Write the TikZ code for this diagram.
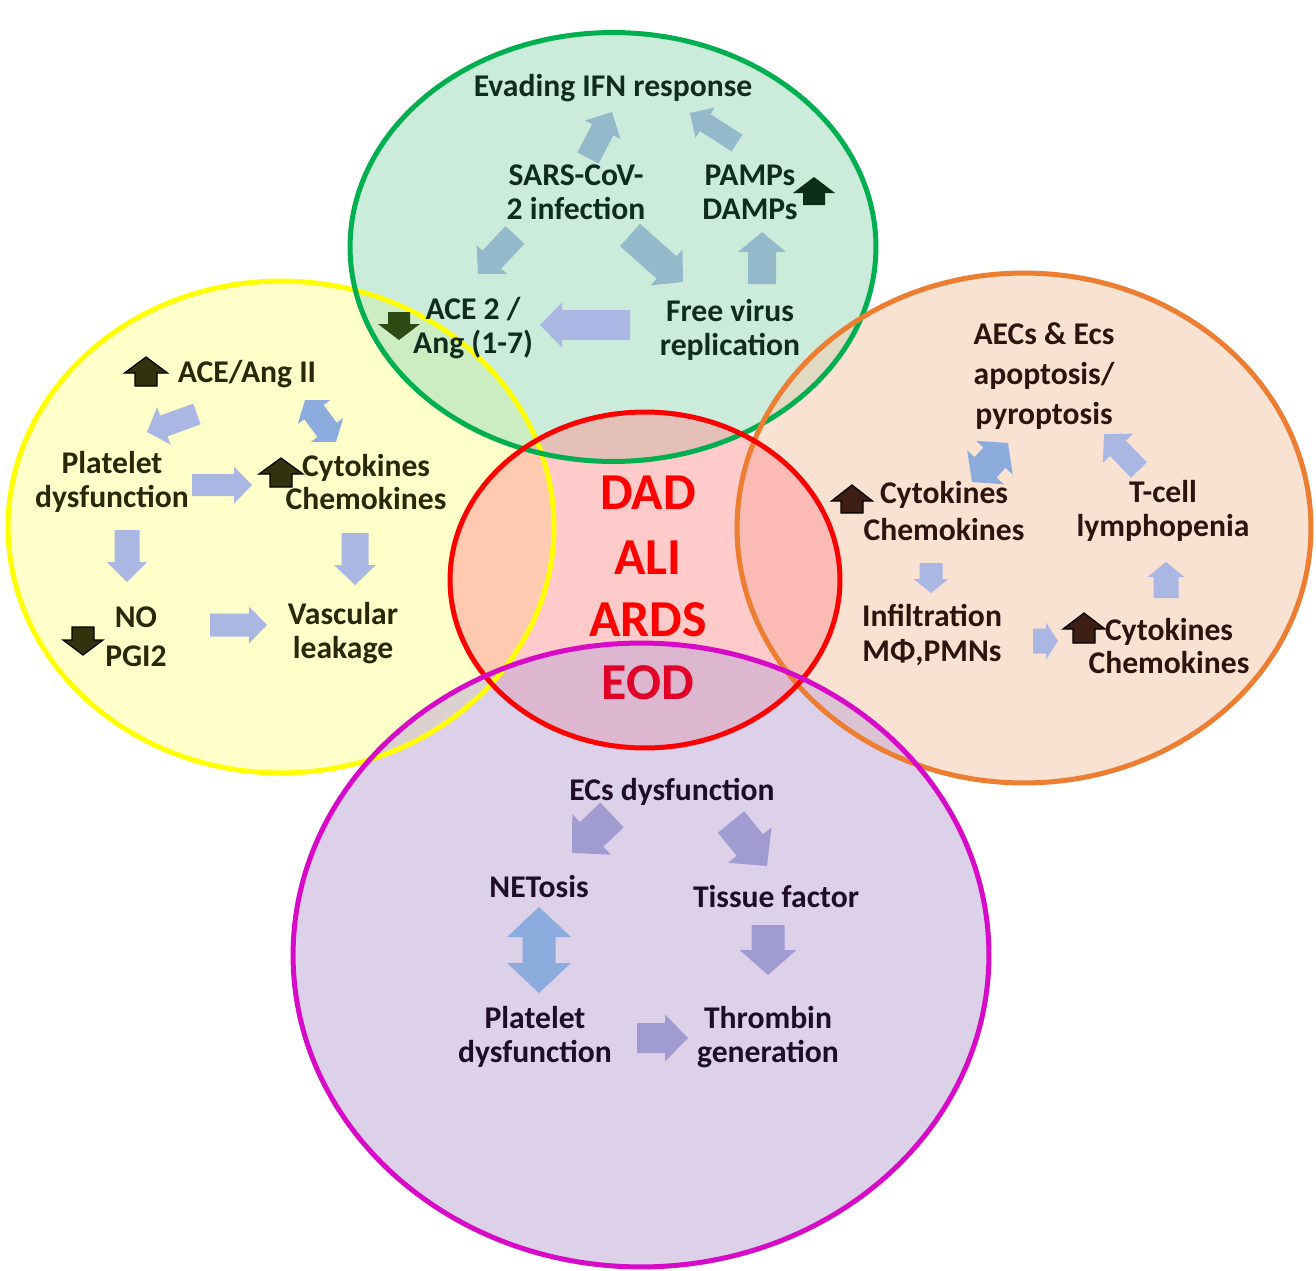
\documentclass[tikz,border=0pt]{standalone}
\usepackage{fontspec}
\setmainfont{Carlito}
\definecolor{yfill}{RGB}{255,255,150}
\definecolor{gfill}{RGB}{155,219,185}
\definecolor{ofill}{RGB}{247,199,169}
\definecolor{rfill}{RGB}{255,150,150}
\definecolor{mfill}{RGB}{189,165,213}
\definecolor{gline}{RGB}{0,176,80}
\definecolor{yline}{RGB}{255,255,0}
\definecolor{oline}{RGB}{237,125,49}
\definecolor{rline}{RGB}{255,0,0}
\definecolor{mline}{RGB}{215,10,200}
\definecolor{gtext}{RGB}{15,45,30}
\definecolor{ytext}{RGB}{40,40,10}
\definecolor{otext}{RGB}{45,20,15}
\definecolor{ptext}{RGB}{30,12,40}
\definecolor{gblue}{RGB}{147,185,203}
\definecolor{lav}{RGB}{170,183,226}
\definecolor{dblue}{RGB}{141,172,222}
\definecolor{purp}{RGB}{160,156,210}
\definecolor{upy}{RGB}{50,50,12}
\definecolor{upo}{RGB}{60,30,20}
\definecolor{upg}{RGB}{12,45,25}
\definecolor{dng}{RGB}{45,75,20}
\newcommand\blk[8]{%
  \pgfmathsetmacro\bkang{atan2(-(#4-#2),#3-#1)}%
  \pgfmathsetmacro\bklen{veclen(#3-#1,#4-#2)}%
  \pgfmathsetmacro\bkbase{\bklen-#7}%
  \begin{scope}[shift={(#1,#2)},rotate=\bkang]
    \path[#8] (0,-#5/2) -- (\bkbase,-#5/2) -- (\bkbase,-#6/2) -- (\bklen,0)
      -- (\bkbase,#6/2) -- (\bkbase,#5/2) -- (0,#5/2) -- cycle;
  \end{scope}}
\newcommand\dblk[8]{%
  \pgfmathsetmacro\bkang{atan2(-(#4-#2),#3-#1)}%
  \pgfmathsetmacro\bklen{veclen(#3-#1,#4-#2)}%
  \pgfmathsetmacro\bkbase{\bklen-#7}%
  \begin{scope}[shift={(#1,#2)},rotate=\bkang]
    \path[#8] (0,0) -- (#7,#6/2) -- (#7,#5/2) -- (\bkbase,#5/2) -- (\bkbase,#6/2)
      -- (\bklen,0) -- (\bkbase,-#6/2) -- (\bkbase,-#5/2) -- (#7,-#5/2) -- (#7,-#6/2) -- cycle;
  \end{scope}}
\tikzset{
  txt/.style={inner sep=0pt, align=center, font=\bfseries\fontsize{18}{19.3}\selectfont},
  gt/.style={txt, text=gtext},
  yt/.style={txt, text=ytext},
  ot/.style={txt, text=otext},
  pt/.style={txt, text=ptext},
  big/.style={inner sep=0pt, text=red, font=\bfseries\fontsize{29.5}{35}\selectfont},
  ring/.style={line width=0.1cm},
  veil/.style={fill opacity=0.5},
  ga/.style={fill=gblue},
  la/.style={fill=lav},
  da/.style={fill=dblue},
  pa/.style={fill=purp},
  upyel/.style={fill=upy, draw=black, line width=0.7pt},
  upora/.style={fill=upo, draw=black, line width=0.7pt},
  upgrn/.style={fill=upg},
  dngrn/.style={fill=dng}
}
\begin{document}
\begin{tikzpicture}[x=0.02cm,y=-0.02cm]
\useasboundingbox (0,0) rectangle (1316,1271);
\fill[white] (0,0) rectangle (1316,1271);
% fills
\path[veil, fill=yfill] (281,527) ellipse [x radius=5.46cm, y radius=4.92cm];
\path[veil, fill=gfill] (613,247) ellipse [x radius=5.26cm, y radius=4.29cm];
\path[veil, fill=ofill] (1024,528) ellipse [x radius=5.74cm, y radius=5.10cm];
\path[veil, fill=rfill] (645,580) ellipse [x radius=3.90cm, y radius=3.36cm];
\path[veil, fill=mfill] (641,955) ellipse [x radius=6.96cm, y radius=6.24cm];
% outlines
\draw[ring, yline] (281,527) ellipse [x radius=5.46cm, y radius=4.92cm];
\draw[ring, gline] (613,247) ellipse [x radius=5.26cm, y radius=4.29cm];
\draw[ring, oline] (1024,528) ellipse [x radius=5.74cm, y radius=5.10cm];
\draw[ring, rline] (645,580) ellipse [x radius=3.90cm, y radius=3.36cm];
\draw[ring, mline] (641,955) ellipse [x radius=6.96cm, y radius=6.24cm];

% ---- green circle
\blk{588}{158}{612}{112}{24}{40}{20}{ga}
\blk{737}{143}{690}{113}{20}{36}{18}{ga}
\blk{515}{235}{478}{274}{26}{42}{20}{ga}
\blk{630}{235}{683}{282}{30}{48}{22}{ga}
\blk{762}{284}{762}{232}{28}{48}{20}{ga}
\blk{630}{325}{540}{325}{30}{45}{22}{la}
\blk{814}{205}{814}{177}{22}{42}{16}{upgrn}
\blk{399}{312}{399}{340}{22}{42}{16}{dngrn}
\node[gt] (ifn) at (613,88) {Evading IFN response};
\node[gt] (sars) at (576,192) {SARS-CoV-\\2 infection};
\node[gt] (pamps) at (750,192) {PAMPs\\DAMPs};
\node[gt] (ace2) at (473,328) {ACE 2 /\\Ang (1-7)};
\node[gt] (free) at (730,330) {Free virus\\replication};

% ---- yellow circle
\blk{197}{414}{147}{432}{22}{40}{18}{la}
\dblk{305}{400}{336}{442}{24}{40}{15}{da}
\blk{192}{485}{252}{485}{22}{37}{18}{la}
\blk{127}{530}{127}{582}{25}{40}{20}{la}
\blk{355}{533}{355}{585}{27}{42}{20}{la}
\blk{210}{625}{267}{625}{23}{37}{18}{la}
\blk{146}{386}{146}{357}{22}{43}{16}{upyel}
\blk{281}{487}{281}{458}{22}{44}{16}{upyel}
\blk{83}{627}{83}{655}{22}{40}{15}{upyel}
\node[yt] (ang) at (247,374) {ACE/Ang II};
\node[yt] (plt) at (112,482) {Platelet\\dysfunction};
\node[yt] (cyto) at (366,482) {Cytokines\\Chemokines};
\node[yt, font=\bfseries\fontsize{18}{22}\selectfont] (no) at (136,637) {NO\\PGI2};
\node[yt] (vasc) at (343,633) {Vascular\\leakage};

% ---- orange circle
\dblk{972}{482}{1008}{443}{30}{50}{20}{da}
\blk{1139}{470}{1104}{434}{22}{42}{20}{la}
\blk{931}{563}{931}{593}{23}{35}{14}{la}
\blk{1033}{641}{1058}{641}{25}{37}{12}{la}
\blk{1166}{598}{1166}{562}{25}{37}{15}{la}
\blk{852}{513}{852}{485}{22}{41}{16}{upora}
\blk{1084}{643}{1084}{613}{22}{42}{16}{upora}
\node[ot, font=\bfseries\fontsize{18}{22.7}\selectfont] (aecs) at (1044,376) {AECs \& Ecs\\apoptosis/\\pyroptosis};
\node[ot, font=\bfseries\fontsize{18}{21}\selectfont] (cyto1) at (944,511) {Cytokines\\Chemokines};
\node[ot] (tcell) at (1163,511) {T-cell\\lymphopenia};
\node[ot, font=\bfseries\fontsize{18}{20.4}\selectfont] (infil) at (932,635) {Infiltration\\MΦ,PMNs};
\node[ot] (cyto2) at (1169,646) {Cytokines\\Chemokines};

% ---- centre
\node[big] (dad) at (648,493) {DAD};
\node[big] (ali) at (648,558) {ALI};
\node[big] (ards) at (648,620) {ARDS};
\node[big, text={rgb,255:red,225;green,0;blue,40}] (eod) at (648,683) {EOD};

% ---- magenta circle
\blk{612}{815}{572}{853}{34}{56}{27}{pa}
\blk{731}{822}{767}{866}{34}{56}{27}{pa}
\dblk{539}{907}{539}{993}{33}{64}{30}{da}
\blk{768}{925}{768}{975}{33}{57}{25}{pa}
\blk{637}{1038}{688}{1038}{30}{47}{23}{pa}
\node[pt] (ecs) at (672,792) {ECs dysfunction};
\node[pt] (net) at (539,887) {NETosis};
\node[pt] (tis) at (776,897) {Tissue factor};
\node[pt] (plt2) at (535,1037) {Platelet\\dysfunction};
\node[pt] (thr) at (768,1037) {Thrombin\\generation};
\end{tikzpicture}
\end{document}
